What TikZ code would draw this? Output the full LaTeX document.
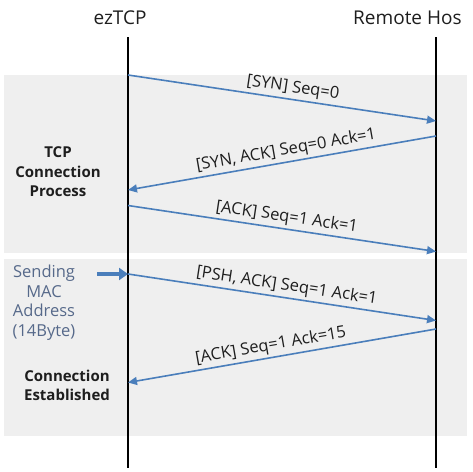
\documentclass[tikz,border=0pt]{standalone}
\usepackage{fontspec}
\setmainfont{Open Sans}
\usetikzlibrary{arrows.meta}
\definecolor{band}{HTML}{EFEFEF}
\definecolor{msg}{HTML}{4A7EBB}
\definecolor{note}{HTML}{56698A}
\definecolor{ink}{HTML}{1E1E1E}
\begin{document}
\begin{tikzpicture}[x=1pt,y=-1pt,
  life/.style={line width=2pt,black},
  msgarrow/.style={msg,line width=1.6pt,-{Triangle[length=9pt,width=8pt]}},
  msglabel/.style={sloped,above,inner sep=2.5pt,text=ink,font=\fontsize{16.5}{18}\selectfont},
  sidelabel/.style={align=center,inner sep=0pt},
  head/.style={inner sep=0pt,text=ink,font=\fontsize{19}{22}\selectfont}]
\useasboundingbox (0,0) rectangle (473,471);
\fill[band] (4,75) rectangle (467,252.5);
\fill[band] (4,259) rectangle (467,436);
\node[head] (ez) at (120,18) {ezTCP};
\node[head,anchor=west] (rh) at (353,18) {Remote Hos};
\coordinate (lt) at (128,37);
\coordinate (lb) at (128,468);
\coordinate (rt) at (436,37);
\coordinate (rb) at (436,468);
\draw[life] (lt) -- (lb);
\draw[life] (rt) -- (rb);
% message end points
\coordinate (a1) at (128,75);   \coordinate (b1) at (436,121);
\coordinate (b2) at (436,136);  \coordinate (a2) at (128,190);
\coordinate (a3) at (128,205.5);\coordinate (b3) at (436,251.5);
\coordinate (a4) at (128,274);  \coordinate (b4) at (436,320.5);
\coordinate (b5) at (436,329);  \coordinate (a5) at (128,382.5);
\draw[msgarrow] (a1) -- node[msglabel,pos=0.53] {[SYN] Seq=0} (b1);
\draw[msgarrow] (b2) -- node[msglabel,pos=0.48] {[SYN, ACK] Seq=0 Ack=1} (a2);
\draw[msgarrow] (a3) -- node[msglabel,pos=0.51] {[ACK] Seq=1 Ack=1} (b3);
\draw[msgarrow] (a4) -- node[msglabel,pos=0.51] {[PSH, ACK] Seq=1 Ack=1} (b4);
\draw[msgarrow] (b5) -- node[msglabel,pos=0.53] {[ACK] Seq=1 Ack=15} (a5);
% side labels
\node[sidelabel,text=ink,font=\fontsize{15}{19.5}\selectfont\bfseries] (tcp) at (58,172) {TCP\\Connection\\Process};
\node[sidelabel,text=note,font=\fontsize{16.5}{19.5}\selectfont] (mac) at (44,302.5) {Sending\\MAC\\Address\\(14Byte)};
\node[sidelabel,text=ink,font=\fontsize{15}{19.5}\selectfont\bfseries] (est) at (67,385.5) {Connection\\Established};
\coordinate (sa) at (97,274);
\draw[msg,line width=3.5pt,-{Triangle[length=9pt,width=12pt]}] (sa) -- (a4);
\end{tikzpicture}
\end{document}
